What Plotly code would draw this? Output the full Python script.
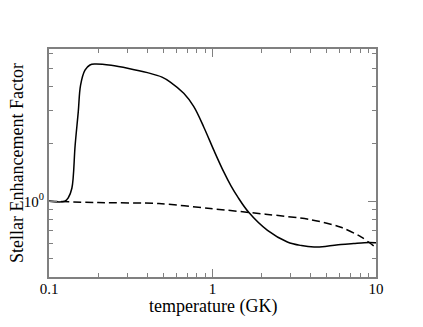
import plotly.graph_objects as go

# temperature (GK) and enhancement factors
t_solid = [0.1, 0.125, 0.131, 0.138, 0.1445, 0.151, 0.156, 0.166, 0.178, 0.191, 0.24, 0.307, 0.40,
           0.491, 0.552, 0.667, 0.767, 0.885, 1.02, 1.17, 1.30, 1.42, 1.67, 2.17, 2.87,
           3.5, 4.18, 5.0, 6.1, 7.3, 8.48, 10]
f_solid = [1.0, 1.0, 1.04, 1.17, 1.97, 2.95, 4.08, 4.89, 5.2, 5.26, 5.18, 4.99, 4.74,
           4.49, 4.23, 3.69, 3.15, 2.45, 1.85, 1.43, 1.20, 1.06, 0.872, 0.703, 0.611,
           0.585, 0.575, 0.58, 0.592, 0.600, 0.606, 0.606]

t_dash = [0.1, 0.2, 0.47, 0.97, 2.11, 4.0, 6.1, 8.1, 10]
f_dash = [1.0, 0.984, 0.972, 0.916, 0.855, 0.80, 0.73, 0.65, 0.57]

x_major = [0.1, 1, 10]
x_labels = ["0.1", "1", "10"]
x_minor = [0.2, 0.3, 0.4, 0.5, 0.6, 0.7, 0.8, 0.9, 2, 3, 4, 5, 6, 7, 8, 9]
y_major = [1]
y_labels = ["10<sup>0</sup>"]
y_minor = [0.4, 0.5, 0.6, 0.7, 0.8, 0.9, 2, 3, 4, 5, 6]

fig = go.Figure()
fig.add_trace(go.Scatter(x=t_dash, y=f_dash, mode="lines",
                         line=dict(color="black", width=1.5, dash="8px,4px", shape="spline", smoothing=0.8)))
fig.add_trace(go.Scatter(x=t_solid, y=f_solid, mode="lines",
                         line=dict(color="black", width=1.5, shape="spline", smoothing=1.0)))

axis_style = dict(showline=True, linecolor="#808080", linewidth=2, mirror="ticks",
                  ticks="inside", ticklen=8, tickcolor="#808080", tickwidth=1,
                  showgrid=False, zeroline=False, automargin=False,
                  tickfont=dict(family="Liberation Serif", size=15, color="black"))

fig.update_xaxes(type="log", range=[-1, 1], tickvals=x_major, ticktext=x_labels, ticklabelstandoff=-3,
                 minor=dict(tickvals=x_minor, ticks="inside", ticklen=4, tickcolor="#808080", showgrid=False),
                 **axis_style)
fig.update_yaxes(type="log", range=[-0.398, 0.8], tickvals=y_major, ticktext=y_labels,
                 minor=dict(tickvals=y_minor, ticks="inside", ticklen=4, tickcolor="#808080", showgrid=False),
                 **axis_style)

# axis titles placed by hand
title_font = dict(family="Liberation Serif", size=18, color="black")
fig.add_annotation(text="temperature (GK)", xref="paper", yref="paper", x=0.5, y=0,
                   xanchor="center", yanchor="middle", yshift=-29, showarrow=False, font=title_font)
fig.add_annotation(text="Stellar Enhancement Factor", xref="paper", yref="paper", x=0, y=0.5,
                   xanchor="center", yanchor="middle", xshift=-32, textangle=-90, showarrow=False,
                   font=title_font)

# page body adds an 8px offset, so the figure is shrunk to keep the plot in place
fig.update_layout(width=415, height=319, showlegend=False,
                  margin=dict(l=41, r=47, t=41, b=50),
                  plot_bgcolor="white", paper_bgcolor="white")

fig.write_html("out.html")
